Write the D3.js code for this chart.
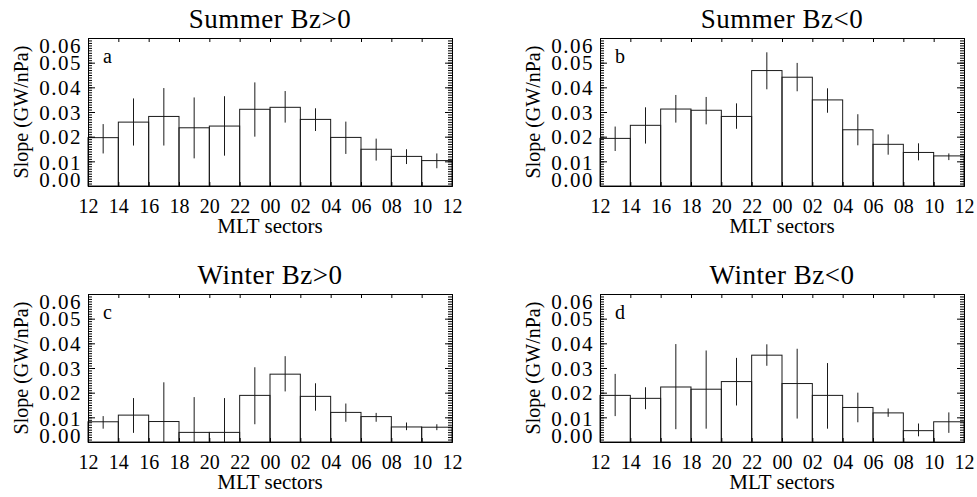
<!DOCTYPE html>
<html>
<head>
<meta charset="utf-8">
<script src="https://cdn.jsdelivr.net/npm/d3@7"></script>
<style>
body { margin: 0; background: #fff; }
svg { display: block; }
</style>
</head>
<body>
<svg></svg>
<script>
// MLT tick labels (bin edges, 2 h sectors starting at noon)
var mltTicks = ["12","14","16","18","20","22","00","02","04","06","08","10","12"];
var slopeTicks = [0, 0.01, 0.02, 0.03, 0.04, 0.05, 0.06];

// slope per MLT sector, with lower / upper ends of the error bar
var summerPos   = [0.0196,0.0259,0.0282,0.0236,0.0243,0.0311,0.0319,0.0270,0.0197,0.0149,0.0120,0.0103];
var summerPosLo = [0.0132,0.0164,0.0164,0.0112,0.0123,0.0200,0.0257,0.0223,0.0130,0.0103,0.0089,0.0072];
var summerPosHi = [0.0251,0.0355,0.0397,0.0359,0.0364,0.0420,0.0385,0.0315,0.0261,0.0192,0.0149,0.0132];

var summerNeg   = [0.0193,0.0246,0.0312,0.0307,0.0282,0.0468,0.0441,0.0349,0.0228,0.0169,0.0136,0.0122];
var summerNegLo = [0.0142,0.0172,0.0257,0.0250,0.0232,0.0392,0.0384,0.0297,0.0165,0.0127,0.0104,0.0105];
var summerNegHi = [0.0241,0.0319,0.0369,0.0361,0.0335,0.0542,0.0499,0.0396,0.0291,0.0209,0.0173,0.0132];

var winterPos   = [0.0082,0.0109,0.0083,0.0039,0.0039,0.0189,0.0275,0.0185,0.0120,0.0103,0.0061,0.0060];
var winterPosLo = [0.0054,0.0037,0.0000,0.0000,0.0000,0.0072,0.0205,0.0127,0.0082,0.0082,0.0048,0.0048];
var winterPosHi = [0.0105,0.0178,0.0242,0.0182,0.0178,0.0303,0.0348,0.0238,0.0156,0.0118,0.0079,0.0072];

var winterNeg   = [0.0189,0.0177,0.0223,0.0214,0.0245,0.0352,0.0237,0.0189,0.0140,0.0118,0.0046,0.0082];
var winterNegLo = [0.0105,0.0133,0.0052,0.0054,0.0148,0.0309,0.0095,0.0054,0.0080,0.0102,0.0023,0.0037];
var winterNegHi = [0.0276,0.0222,0.0397,0.0371,0.0341,0.0396,0.0378,0.0320,0.0200,0.0136,0.0075,0.0120];

var panels = [
    {title:"Summer Bz>0", tag:"a", left:88,  top:38,  v:summerPos, lo:summerPosLo, hi:summerPosHi},
    {title:"Summer Bz<0", tag:"b", left:600, top:38,  v:summerNeg, lo:summerNegLo, hi:summerNegHi},
    {title:"Winter Bz>0", tag:"c", left:88,  top:294, v:winterPos, lo:winterPosLo, hi:winterPosHi},
    {title:"Winter Bz<0", tag:"d", left:600, top:294, v:winterNeg, lo:winterNegLo, hi:winterNegHi}
];

var serif = "'Liberation Serif', 'DejaVu Serif', 'Times New Roman', Times, serif";

var svg = d3.select("svg").attr("width", 977).attr("height", 497)
    .attr("font-family", serif);
var width = 364, height = 148;

var x = d3.scaleLinear().domain([0, 24]).range([0, width]);
var y = d3.scaleLinear().domain([0, 0.06]).range([height, 0]);
var hourTicks = d3.range(0, 25, 2);
var minorTicks = d3.range(61).map(function (i) { return i / 1000; });

// nudge end labels the way the original plot squeezes them inside the frame
var labelShift = {"0.00": -7, "0.01": 1, "0.06": 7};

function styleAxis(g) {
    g.attr("font-family", serif).attr("font-size", "20px");
    g.selectAll("path.domain").attr("stroke", "#000").attr("stroke-width", 1);
    g.selectAll("line").attr("stroke", "#000").attr("stroke-width", 1);
    g.selectAll("text").attr("fill", "#000").style("font-family", serif).style("font-size", "20px");
}

panels.forEach(function (p) {
    var g = svg.append("g").attr("transform", "translate(" + p.left + "," + p.top + ")");

    // bars
    g.selectAll("rect.bar").data(p.v).enter()
        .append("rect")
        .attr("class", "bar")
        .attr("x", function (d, i) { return x(2 * i); })
        .attr("width", x(2) - x(0))
        .attr("y", function (d) { return y(d); })
        .attr("height", function (d) { return height - y(d); })
        .attr("fill", "none")
        .attr("stroke", "#1a1a1a")
        .attr("stroke-width", 1);

    // error bars
    g.selectAll("line.err").data(p.v).enter()
        .append("line")
        .attr("class", "err")
        .attr("x1", function (d, i) { return x(2 * i + 1); })
        .attr("x2", function (d, i) { return x(2 * i + 1); })
        .attr("y1", function (d, i) { return y(Math.max(0, p.lo[i])); })
        .attr("y2", function (d, i) { return y(p.hi[i]); })
        .attr("stroke", "#1a1a1a")
        .attr("stroke-width", 1);

    // minor ticks left / right
    g.append("g").call(d3.axisLeft(y).tickValues(minorTicks).tickSize(-4).tickSizeOuter(0).tickFormat(""))
        .call(styleAxis);
    g.append("g").attr("transform", "translate(" + width + ",0)")
        .call(d3.axisRight(y).tickValues(minorTicks).tickSize(-4).tickSizeOuter(0).tickFormat(""))
        .call(styleAxis);

    // major left axis with labels
    var yAxis = g.append("g")
        .call(d3.axisLeft(y).tickValues(slopeTicks).tickSize(-7).tickSizeOuter(0).tickPadding(6)
            .tickFormat(d3.format(".2f")))
        .call(styleAxis);
    yAxis.selectAll("text")
        .style("font-size", "21px")
        .style("letter-spacing", "1.5px")
        .attr("dy", function (d) {
            var s = labelShift[d3.format(".2f")(d)] || 0;
            return (s + 7) + "px";
        });
    g.append("g").attr("transform", "translate(" + width + ",0)")
        .call(d3.axisRight(y).tickValues(slopeTicks).tickSize(-7).tickSizeOuter(0).tickFormat(""))
        .call(styleAxis);

    // top and bottom axes
    g.append("g")
        .call(d3.axisTop(x).tickValues(hourTicks).tickSize(-4).tickSizeOuter(0).tickFormat(""))
        .call(styleAxis);
    g.append("g").attr("transform", "translate(0," + height + ")")
        .call(d3.axisBottom(x).tickValues(hourTicks).tickSize(-4).tickSizeOuter(0).tickPadding(13)
            .tickFormat(function (d, i) { return mltTicks[i]; }))
        .call(styleAxis);

    // titles
    g.append("text")
        .attr("x", width / 2).attr("y", -10)
        .attr("text-anchor", "middle")
        .attr("font-size", "27px")
        .style("letter-spacing", "0.5px")
        .text(p.title);
    g.append("text")
        .attr("x", width / 2).attr("y", height + 47)
        .attr("text-anchor", "middle")
        .attr("font-size", "21px")
        .text("MLT sectors");
    g.append("text")
        .attr("transform", "translate(-60," + (height / 2) + ") rotate(-90)")
        .attr("text-anchor", "middle")
        .attr("font-size", "20px")
        .text("Slope (GW/nPa)");
    g.append("text")
        .attr("x", 15).attr("y", 25)
        .attr("font-size", "20px")
        .text(p.tag);
});
</script>
</body>
</html>
